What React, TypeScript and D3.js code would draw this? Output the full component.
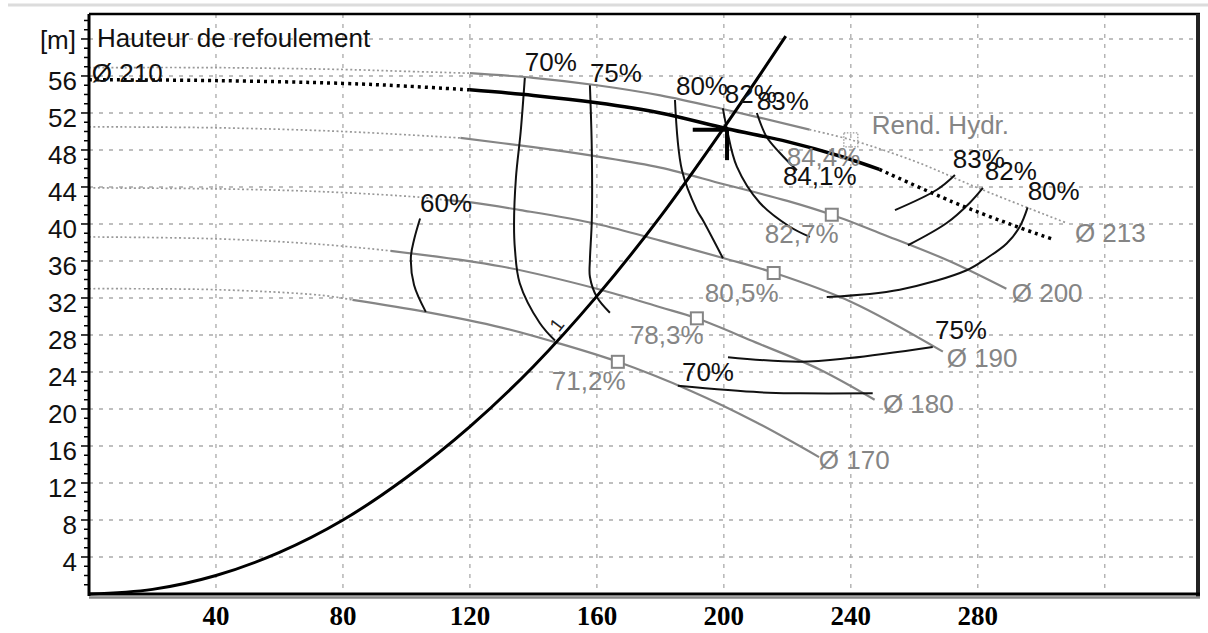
import React from "react";
import * as d3 from "d3";

type P = [number, number];

// ---- axis ticks ----
const xTickValues = [40, 80, 120, 160, 200, 240, 280];
const xGridValues = [40, 80, 120, 160, 200, 240, 280, 320];
const yTickValues = [4, 8, 12, 16, 20, 24, 28, 32, 36, 40, 44, 48, 52, 56];
const yGridValues = [4, 8, 12, 16, 20, 24, 28, 32, 36, 40, 44, 48, 52, 56, 60];

// ---- impeller diameter curves (Q, H) ----
const d213Dotted: P[] = [[0, 56.9], [40, 56.9], [80, 56.7], [100, 56.5], [120, 56.3]];
const d213Solid: P[] = [[120, 56.3], [140, 55.8], [160, 55.0], [180, 53.9], [200, 52.4], [227, 50.2]];
const d213Tail: P[] = [[227, 50.2], [240, 49.1], [260, 46.8], [280, 43.9], [308, 40.1]];

const d210Dotted: P[] = [[0, 55.6], [40, 55.5], [80, 55.2], [100, 54.9], [120, 54.5]];
const d210Solid: P[] = [[120, 54.5], [140, 53.9], [160, 53.1], [180, 52.0], [201, 50.3], [220, 48.9], [237, 47.3], [249, 45.9]];
const d210Tail: P[] = [[249, 45.9], [272, 42.4], [290, 40.0], [304, 38.3]];

const d200Dotted: P[] = [[0, 50.5], [40, 50.4], [80, 50.0], [117, 49.3]];
const d200Solid: P[] = [[117, 49.3], [140, 48.3], [160, 47.3], [180, 46.1], [200, 44.3], [220, 42.5], [234, 41.0], [250, 38.9], [271, 36.0], [289, 33.0]];

const d190Dotted: P[] = [[0, 43.9], [40, 43.8], [73, 43.5], [104, 42.9], [112, 42.6]];
const d190Solid: P[] = [[112, 42.6], [121, 42.3], [136, 41.5], [160, 40.0], [180, 38.2], [200, 36.3], [216, 34.7], [240, 31.6], [269, 26.2]];

const d180Dotted: P[] = [[0, 38.6], [40, 38.4], [73, 37.8], [95, 37.1]];
const d180Solid: P[] = [[95, 37.1], [130, 35.4], [160, 33.0], [180, 31.0], [191.5, 29.8], [210, 27.2], [230, 24.3], [247.5, 21.0]];

const d170Dotted: P[] = [[0, 33.0], [40, 32.9], [73, 32.3], [83, 31.8]];
const d170Solid: P[] = [[83, 31.8], [106, 30.5], [130, 28.8], [147, 27.2], [166.6, 25.1], [190, 21.9], [210, 18.6], [230, 14.8]];

// ---- system curve ----
const systemCurve: P[] = [[0, 0], [20, 0.5], [40, 2.0], [60, 4.5], [80, 8.0], [100, 12.6], [120, 18.1], [140, 24.6], [160, 32.2], [180, 40.8], [200, 50.4], [219.5, 60.3]];

// ---- iso-efficiency curves ----
const eff60: P[] = [[104.3, 40.6], [102.4, 38.3], [101.4, 36.4], [102.4, 33.4], [106.1, 30.5]];
const eff70Left: P[] = [[137.3, 55.8], [136, 50], [134.5, 45], [133.9, 40], [134.2, 37.2], [135.7, 33.6], [142, 29.3], [146.8, 27.4]];
const eff75Left: P[] = [[157.8, 55.0], [158.4, 48.0], [158.4, 40.4], [157.8, 36.1], [157.8, 34.3], [160, 32.1], [164.1, 30.4]];
const eff80Left: P[] = [[184.6, 53.4], [186.8, 45.8], [191.5, 41.5], [193.4, 40.4], [199.7, 36.3]];
const eff82Left: P[] = [[199.7, 52.5], [201, 50.2], [204.1, 46.2], [211.3, 42.3], [220.8, 39.7], [227.1, 38.6]];
const eff83Left: P[] = [[210.4, 52.0], [213.5, 49.4], [217.6, 47.7], [223, 45.8]];
const eff80Right: P[] = [[295.7, 41.8], [293.2, 39.7], [289.1, 37.9], [282.8, 36.3], [276.5, 35.0], [255.4, 32.9], [232.4, 32.1]];
const eff82Right: P[] = [[281.6, 43.9], [277.5, 42.3], [270.2, 40.1], [258, 37.7]];
const eff83Right: P[] = [[272.8, 45.3], [267.1, 43.7], [253.9, 41.5]];
const eff75Right: P[] = [[201.3, 25.6], [223.9, 25.1], [239.7, 25.5], [265.8, 26.7]];
const eff70Right: P[] = [[185.5, 22.5], [211.3, 21.8], [224, 21.7], [246.9, 21.7]];

// ---- best efficiency points (squares) ----
const bepPoints: P[] = [[166.6, 25.1], [191.5, 29.8], [215.7, 34.7], [234.0, 41.0]];
const bep213: P = [240, 49.1];

// ---- operating point ----
const opPoint: P = [201, 50.2];
const opLeftQ = 190.2;
const opDownH = 46.9;

// ---- labels [text, Q, H] ----
const blackLabels: [string, number, number][] = [
  ["70%", 137.3, 56.5],
  ["75%", 157.8, 55.4],
  ["80%", 184.9, 53.9],
  ["82%", 200.3, 53.1],
  ["83%", 210.4, 52.3],
  ["84,1%", 218.6, 44.2],
  ["60%", 104.3, 41.3],
  ["70%", 186.8, 23.0],
  ["75%", 266.5, 27.6],
  ["83%", 272.1, 46.1],
  ["82%", 282.2, 44.8],
  ["80%", 295.7, 42.6],
  ["Ø 210", 0.9, 55.4],
];
const grayLabels: [string, number, number][] = [
  ["84,4%", 219.8, 46.3],
  ["82,7%", 212.9, 37.9],
  ["80,5%", 194.0, 31.6],
  ["78,3%", 170.4, 27.0],
  ["71,2%", 145.8, 22.1],
  ["Ø 213", 310.6, 38.1],
  ["Ø 200", 290.7, 31.6],
  ["Ø 190", 270.2, 24.5],
  ["Ø 180", 250.1, 19.6],
  ["Ø 170", 229.9, 13.5],
  ["Rend. Hydr.", 246.6, 49.7],
];
const curveNumberLabel: [string, number, number] = ["1", 147.4, 29.1];

const W = 1208;
const H = 633;
const X0 = 89, X1 = 1200, Y0 = 594, Y1 = 14;

const xScale = d3.scaleLinear().domain([0, 350]).range([X0, X1]);
const yScale = d3.scaleLinear().domain([0, 62.7]).range([Y0, Y1]);

const line = d3
  .line<P>()
  .x((d) => xScale(d[0]))
  .y((d) => yScale(d[1]))
  .curve(d3.curveCatmullRom.alpha(0.5));

const SANS = "'Liberation Sans', Arial, sans-serif";
const SERIF = "'Liberation Serif', 'Times New Roman', serif";
const GRAY = "#858585";

export default function App() {
  const minorTicks = d3.range(1, 63);
  const diamSolid = [d213Solid, d200Solid, d190Solid, d180Solid, d170Solid];
  const diamDotted = [d213Dotted, d213Tail, d200Dotted, d190Dotted, d180Dotted, d170Dotted];
  const effCurves = [eff60, eff70Left, eff75Left, eff80Left, eff82Left, eff83Left, eff80Right, eff82Right, eff83Right, eff75Right, eff70Right];
  return (
    <svg
      width={W}
      height={H}
      style={{ position: "absolute", left: 0, top: 0, background: "#fff" }}
    >
      <rect x={0} y={0} width={W} height={H} fill="#fff" />
      <line x1={8} x2={1208} y1={5} y2={5} stroke="#dcdcdc" strokeWidth={3} />
      {/* grid */}
      <g stroke="#aaa" strokeWidth={1.3} strokeDasharray="4 6">
        {yGridValues.map((v) => (
          <line key={"gy" + v} x1={X0} x2={X1 - 3} y1={yScale(v)} y2={yScale(v)} />
        ))}
        {xGridValues.map((v) => (
          <line key={"gx" + v} x1={xScale(v)} x2={xScale(v)} y1={Y1} y2={Y0} />
        ))}
      </g>
      {/* dotted extensions of diameter curves */}
      <g fill="none" stroke="#999" strokeWidth={1.7} strokeDasharray="2 2.5">
        {diamDotted.map((c, i) => (
          <path key={"dd" + i} d={line(c) || ""} />
        ))}
      </g>
      {/* solid diameter curves */}
      <g fill="none" stroke={GRAY} strokeWidth={2.2}>
        {diamSolid.map((c, i) => (
          <path key={"ds" + i} d={line(c) || ""} />
        ))}
      </g>
      {/* iso-efficiency curves */}
      <g fill="none" stroke="#111" strokeWidth={2}>
        {effCurves.map((c, i) => (
          <path key={"ef" + i} d={line(c) || ""} />
        ))}
      </g>
      {/* Ø210 main curve */}
      <path d={line(d210Dotted) || ""} fill="none" stroke="#000" strokeWidth={3.5} strokeDasharray="3 4" />
      <path d={line(d210Solid) || ""} fill="none" stroke="#000" strokeWidth={3.5} />
      <path d={line(d210Tail) || ""} fill="none" stroke="#000" strokeWidth={3.5} strokeDasharray="3 4" />
      {/* system curve */}
      <path d={line(systemCurve) || ""} fill="none" stroke="#000" strokeWidth={3} />
      {/* operating point */}
      <g stroke="#000" strokeWidth={4}>
        <line x1={xScale(opLeftQ)} x2={xScale(opPoint[0])} y1={yScale(opPoint[1])} y2={yScale(opPoint[1])} />
        <line x1={xScale(opPoint[0])} x2={xScale(opPoint[0])} y1={yScale(opPoint[1])} y2={yScale(opDownH)} />
      </g>
      {/* BEP squares */}
      {bepPoints.map((p, i) => (
        <rect key={"b" + i} x={xScale(p[0]) - 6} y={yScale(p[1]) - 6} width={12} height={12} fill="#fff" stroke={GRAY} strokeWidth={2} />
      ))}
      <rect x={xScale(bep213[0]) - 7} y={yScale(bep213[1]) - 7} width={14} height={14} fill="none" stroke="#999" strokeWidth={1.3} strokeDasharray="1.5 1.5" />
      {/* labels */}
      <g fontFamily={SANS} fontSize={26}>
        {grayLabels.map(([t, q, h], i) => (
          <text key={"gl" + i} x={xScale(q)} y={yScale(h)} fill={GRAY}>{t}</text>
        ))}
        {blackLabels.map(([t, q, h], i) => (
          <text key={"bl" + i} x={xScale(q)} y={yScale(h)} fill="#111">{t}</text>
        ))}
        <text
          x={xScale(curveNumberLabel[1])}
          y={yScale(curveNumberLabel[2])}
          fontSize={19}
          fill="#222"
          textAnchor="middle"
          dominantBaseline="central"
          transform={`rotate(-52 ${xScale(curveNumberLabel[1])} ${yScale(curveNumberLabel[2])})`}
        >
          {curveNumberLabel[0]}
        </text>
        <text x={97} y={47} fill="#111">Hauteur de refoulement</text>
        <text x={76} y={49} fill="#111" textAnchor="end">[m]</text>
      </g>
      {/* y axis ticks */}
      <g stroke="#000" strokeWidth={1.5}>
        {minorTicks.map((v) => (
          <line key={"mt" + v} x1={X0 - (v % 4 === 0 ? 8 : 5)} x2={X0} y1={yScale(v)} y2={yScale(v)} />
        ))}
      </g>
      <g fontFamily={SANS} fontSize={26} fill="#111" textAnchor="end">
        {yTickValues.map((v) => (
          <text key={"yl" + v} x={77} y={yScale(v) + 14}>{v}</text>
        ))}
      </g>
      <g fontFamily={SERIF} fontSize={27} fontWeight="bold" fill="#000" textAnchor="middle">
        {xTickValues.map((v) => (
          <text key={"xl" + v} x={xScale(v)} y={625}>{v}</text>
        ))}
      </g>
      {/* frame */}
      <line x1={X0} x2={X1} y1={Y1} y2={Y1} stroke="#000" strokeWidth={2.5} />
      <line x1={X0} x2={X0} y1={Y1} y2={Y0 + 2} stroke="#000" strokeWidth={3} />
      <line x1={X1 - 2} x2={X1 - 2} y1={Y1} y2={Y0 + 4} stroke="#222" strokeWidth={4} />
      <line x1={X0} x2={X1} y1={Y0} y2={Y0} stroke="#000" strokeWidth={3} />
      <line x1={X0} x2={X1} y1={Y0 + 3.5} y2={Y0 + 3.5} stroke="#888" strokeWidth={2.5} />
    </svg>
  );
}
